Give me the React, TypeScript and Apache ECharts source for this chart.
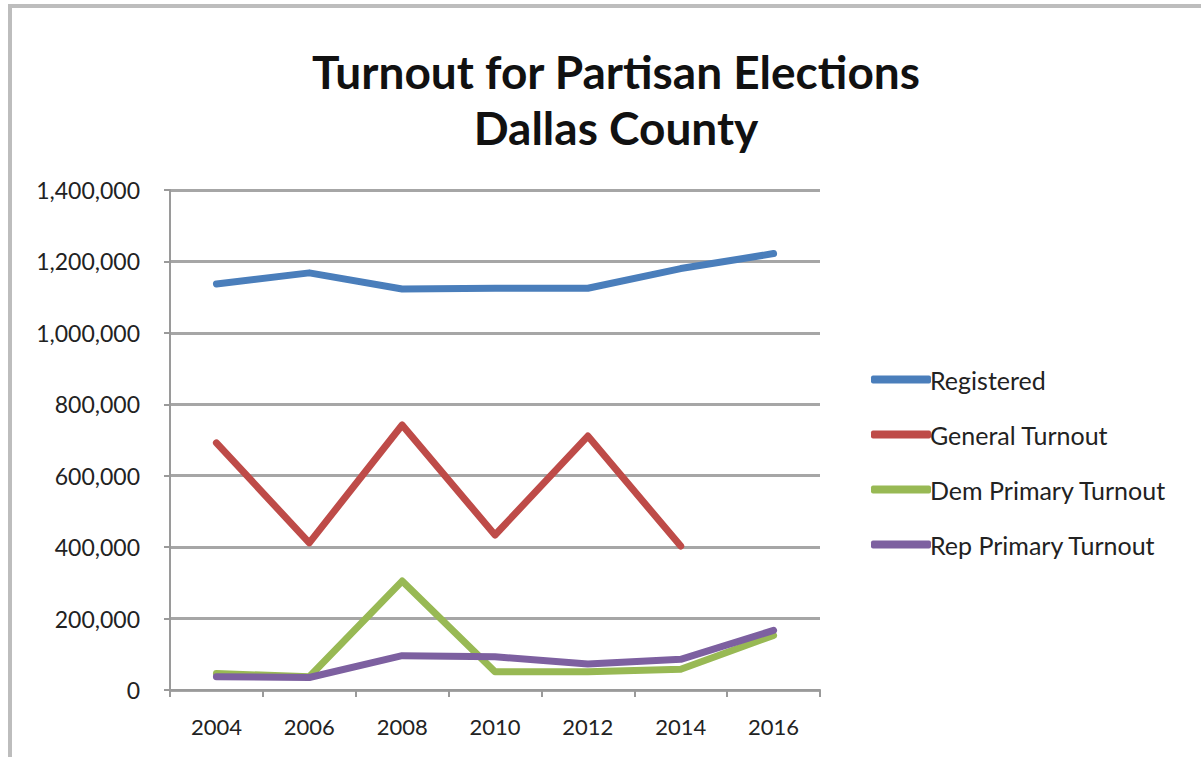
import React, { useEffect, useRef } from "react";
import * as echarts from "echarts";

const years = ["2004", "2006", "2008", "2010", "2012", "2014", "2016"];
const registered = [1137000, 1168000, 1123000, 1125000, 1125000, 1180000, 1222000];
const generalTurnout = [692000, 412000, 742000, 434000, 711000, 403000, null];
const demPrimary = [46000, 37000, 305000, 51000, 51000, 58000, 153000];
const repPrimary = [37000, 35000, 96000, 93000, 73000, 86000, 167000];

const seriesNames = ["Registered", "General Turnout", "Dem Primary Turnout", "Rep Primary Turnout"];
const seriesColors = ["#4a7ebb", "#be4b48", "#98b954", "#7d60a0"];

const FONT = "Lato, 'Open Sans', sans-serif";

export default function App() {
  const ref = useRef<HTMLDivElement>(null);

  useEffect(() => {
    document.body.style.margin = "0";
    if (!ref.current) return;
    const chart = echarts.init(ref.current, null, { renderer: "svg" });
    const dataSets = [registered, generalTurnout, demPrimary, repPrimary];
    chart.setOption({
      animation: false,
      backgroundColor: "#ffffff",
      title: {
        text: "Turnout for Partisan Elections\nDallas County",
        left: 611,
        textAlign: "center",
        top: 38,
        textStyle: {
          fontFamily: FONT,
          fontWeight: "bold",
          fontSize: 46,
          lineHeight: 56,
          color: "#111111",
        },
      },
      graphic: [
        {
          type: "rect",
          shape: { x: 10, y: 6, width: 1300, height: 800 },
          style: { fill: "none", stroke: "#bdbdbd", lineWidth: 4 },
          silent: true,
        },
      ],
      legend: {
        orient: "vertical",
        left: 866,
        top: 362,
        itemWidth: 60,
        itemHeight: 8,
        itemGap: 30,
        icon: "roundRect",
        data: seriesNames,
        textStyle: {
          fontFamily: FONT,
          fontSize: 25,
          lineHeight: 22,
          color: "#222222",
          padding: [0, 0, 0, -6],
        },
      },
      grid: { left: 170, right: 381, top: 190, bottom: 67, containLabel: false },
      xAxis: {
        type: "category",
        data: years,
        boundaryGap: true,
        axisLine: { lineStyle: { color: "#9a9a9a", width: 2 } },
        axisTick: { show: true, length: 7, lineStyle: { color: "#9a9a9a", width: 2 } },
        axisLabel: {
          margin: 25,
          fontFamily: FONT,
          fontSize: 22,
          color: "#222222",
        },
      },
      yAxis: {
        type: "value",
        min: 0,
        max: 1400000,
        interval: 200000,
        axisLine: { show: true, lineStyle: { color: "#9a9a9a", width: 2 } },
        axisTick: { show: true, length: 6, lineStyle: { color: "#9a9a9a", width: 2 } },
        splitLine: { show: true, lineStyle: { color: "#a6a6a6", width: 3 } },
        axisLabel: {
          margin: 30,
          fontFamily: FONT,
          fontSize: 23,
          color: "#222222",
          formatter: (v: number) => v.toLocaleString("en-US"),
        },
      },
      series: dataSets.map((d, i) => ({
        name: seriesNames[i],
        type: "line",
        data: d,
        showSymbol: false,
        symbol: "none",
        connectNulls: false,
        color: seriesColors[i],
        lineStyle: { width: 7, color: seriesColors[i], cap: "round", join: "round" },
        itemStyle: { color: seriesColors[i] },
      })),
    });
    return () => chart.dispose();
  }, []);

  return <div ref={ref} style={{ width: 1201, height: 757 }} />;
}
